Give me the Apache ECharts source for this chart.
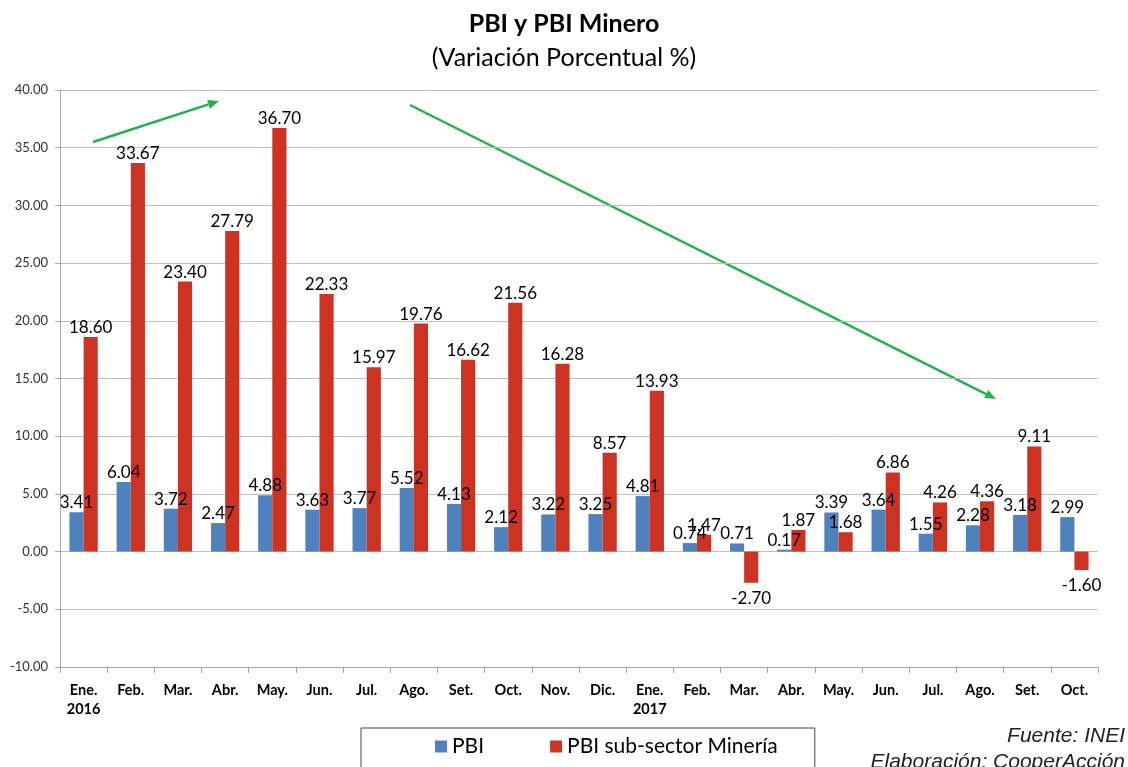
<!DOCTYPE html>
<html>
<head>
<meta charset="utf-8">
<script src="https://cdn.jsdelivr.net/npm/echarts@6/dist/echarts.min.js"></script>
<style>
  html, body { margin: 0; padding: 0; background: #fff; }
  #chart { width: 1128px; height: 767px; }
</style>
</head>
<body>
<div id="chart"></div>
<script>
// meses (ene 2016 - oct 2017)
var meses = ['Ene.\n2016', 'Feb.', 'Mar.', 'Abr.', 'May.', 'Jun.', 'Jul.', 'Ago.', 'Set.', 'Oct.', 'Nov.', 'Dic.',
  'Ene.\n2017', 'Feb.', 'Mar.', 'Abr.', 'May.', 'Jun.', 'Jul.', 'Ago.', 'Set.', 'Oct.'];
var pbi = [3.41, 6.04, 3.72, 2.47, 4.88, 3.63, 3.77, 5.52, 4.13, 2.12, 3.22, 3.25,
  4.81, 0.74, 0.71, 0.17, 3.39, 3.64, 1.55, 2.28, 3.18, 2.99];
var mineria = [18.60, 33.67, 23.40, 27.79, 36.70, 22.33, 15.97, 19.76, 16.62, 21.56, 16.28, 8.57,
  13.93, 1.47, -2.70, 1.87, 1.68, 6.86, 4.26, 4.36, 9.11, -1.60];

var FONT = 'Lato, "Noto Sans", sans-serif';
var VERDE = '#26b04b';

// flecha verde (anotacion)
function flecha (x1, y1, x2, y2) {
  var a = Math.atan2(y2 - y1, x2 - x1), L = 11, W = 4.5;
  var bx = x2 - L * Math.cos(a), by = y2 - L * Math.sin(a);
  return {
    type: 'group',
    children: [
      { type: 'line', shape: { x1: x1, y1: y1, x2: bx, y2: by }, style: { stroke: VERDE, lineWidth: 2.5 } },
      { type: 'polygon', shape: { points: [[x2, y2],
        [bx + W * Math.sin(a), by - W * Math.cos(a)],
        [bx - W * Math.sin(a), by + W * Math.cos(a)]] }, style: { fill: VERDE } }
    ]
  };
}

function etiquetas (arr) {
  return arr.map(function (v) {
    return v < 0 ? { value: v, label: { position: 'bottom', distance: 7 } } : v;
  });
}

var chart = echarts.init(document.getElementById('chart'));
var option = {
  animation: false,
  textStyle: { fontFamily: FONT },
  title: [
    { text: 'PBI y PBI Minero', left: 'center', top: 6,
      textStyle: { fontFamily: FONT, fontSize: 25, fontWeight: 'bold', color: '#000' } },
    { text: '(Variación Porcentual %)', left: 'center', top: 40,
      textStyle: { fontFamily: FONT, fontSize: 25, fontWeight: 'normal', color: '#000' } }
  ],
  legend: {
    bottom: -14, left: 361,
    data: ['PBI', 'PBI sub-sector Minería'],
    icon: 'rect', itemWidth: 12, itemHeight: 12, itemGap: 66,
    padding: [8, 37, 24, 74],
    borderColor: '#444', borderWidth: 1,
    textStyle: { fontFamily: FONT, fontSize: 21, color: '#000' }
  },
  grid: { left: 60, right: 30, top: 90, bottom: 100 },
  xAxis: [
    {
      type: 'category', data: meses, position: 'bottom',
      axisLine: { show: false }, axisTick: { show: false },
      axisLabel: { interval: 0, fontFamily: FONT, fontSize: 14.5, fontWeight: 'bold', color: '#000', margin: 14, lineHeight: 19 }
    },
    {
      type: 'category', data: meses, position: 'bottom',
      axisLine: { onZero: true, lineStyle: { color: '#a6a6a6', width: 1 } },
      axisTick: { show: true, length: 6, lineStyle: { color: '#a6a6a6' } },
      axisLabel: { show: false }
    }
  ],
  yAxis: {
    type: 'value', min: -10, max: 40, interval: 5,
    axisLine: { show: true, lineStyle: { color: '#a6a6a6' } },
    axisTick: { show: true, length: 5, lineStyle: { color: '#a6a6a6' } },
    splitLine: { lineStyle: { color: '#bfbfbf', width: 1 } },
    axisLabel: { fontFamily: FONT, fontSize: 13, color: '#333', margin: 12,
      formatter: function (v) { return v.toFixed(2); } }
  },
  series: [
    {
      name: 'PBI', type: 'bar', data: etiquetas(pbi),
      itemStyle: { color: '#4f81bd' },
      barGap: '0%', barCategoryGap: '40%',
      label: { show: true, position: 'top', distance: 1, fontFamily: FONT, fontSize: 17, color: '#000',
        formatter: function (p) { return p.value.toFixed(2); } }
    },
    {
      name: 'PBI sub-sector Minería', type: 'bar', data: etiquetas(mineria),
      itemStyle: { color: '#cc3322' },
      barGap: '0%', barCategoryGap: '40%',
      label: { show: true, position: 'top', distance: 1, fontFamily: FONT, fontSize: 17, color: '#000',
        formatter: function (p) { return p.value.toFixed(2); } }
    }
  ],
  graphic: [
    flecha(93, 142, 219, 101),
    flecha(410, 105, 996, 399),
    { type: 'text', right: 3, top: 726,
      style: { text: 'Fuente: INEI', font: 'italic 21px "Liberation Sans", Arial, sans-serif', fill: '#222', textAlign: 'right' } },
    { type: 'text', right: 3, top: 752,
      style: { text: 'Elaboración: CooperAcción', font: 'italic 21px "Liberation Sans", Arial, sans-serif', fill: '#222', textAlign: 'right' } }
  ]
};
chart.setOption(option);
window.onresize = chart.resize;
</script>
</body>
</html>
